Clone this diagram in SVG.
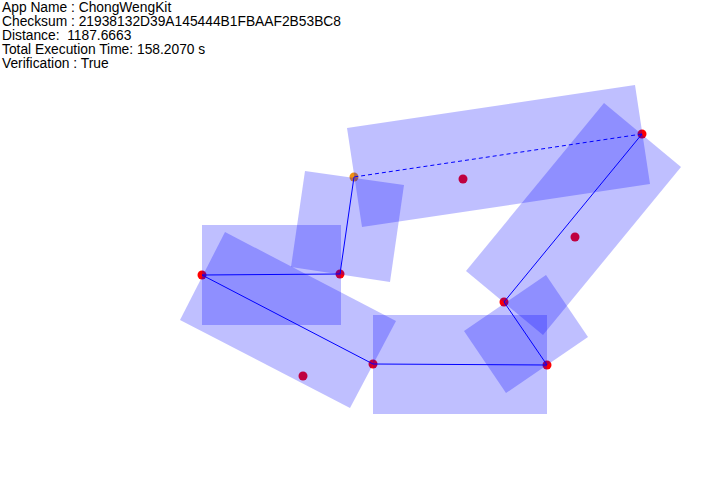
<svg xmlns="http://www.w3.org/2000/svg" width="726" height="500" viewBox="0 0 726 500">
<style>
.t{font-family:"Liberation Sans",Arial,sans-serif;font-size:13.8px;fill:#000;white-space:pre}
.r{fill:#0000ff;fill-opacity:0.25;stroke:none}
.d{fill:#ff0000}
.o{fill:#f09010}
.c{stroke:#0000ff;stroke-width:1;fill:none}
.dash{stroke-dasharray:4 3}
</style>
<rect width="726" height="500" fill="#fff"/>
<g id="info">
<text class="t" x="2" y="12">App Name : ChongWengKit</text>
<text class="t" x="2" y="26">Checksum : 21938132D39A145444B1FBAAF2B53BC8</text>
<text class="t" x="2" y="40" xml:space="preserve">Distance:  1187.6663</text>
<text class="t" x="2" y="54">Total Execution Time: 158.2070 s</text>
<text class="t" x="2" y="68">Verification : True</text>
</g>
<g id="n-a"><circle class="o" cx="354" cy="177" r="4.5"/></g>
<g id="n-b"><circle class="d" cx="642" cy="134" r="4.5"/></g>
<g id="n-c"><circle class="d" cx="340" cy="274" r="4.5"/></g>
<g id="n-d"><circle class="d" cx="202" cy="275" r="4.5"/></g>
<g id="n-e"><circle class="d" cx="373" cy="364" r="4.5"/></g>
<g id="n-f"><circle class="d" cx="547" cy="365" r="4.5"/></g>
<g id="n-g"><circle class="d" cx="504" cy="302" r="4.5"/></g>
<g id="n-h"><circle class="d" cx="463" cy="179" r="4.5"/></g>
<g id="n-i"><circle class="d" cx="575" cy="237" r="4.5"/></g>
<g id="n-j"><circle class="d" cx="303" cy="376" r="4.5"/></g>
<g id="areas">
<polygon class="r" points="347,128 635,85 650,184 362,227"/>
<polygon class="r" points="604,103 681,167 543,335 466,271"/>
<polygon class="r" points="305,171 404,185 390,282 291,267"/>
<rect class="r" x="202" y="225" width="139" height="100"/>
<polygon class="r" points="225,232 396,321 350,408 180,320"/>
<rect class="r" x="373" y="315" width="174" height="99"/>
<polygon class="r" points="546,275 588,337 506,393 464,331"/>
</g>
<g id="connectors">
<polyline class="c" points="354,177 340,274 202,275 373,364 547,365 504,302 642,134"/>
<line class="c dash" x1="642" y1="134" x2="354" y2="177"/>
</g>
</svg>
